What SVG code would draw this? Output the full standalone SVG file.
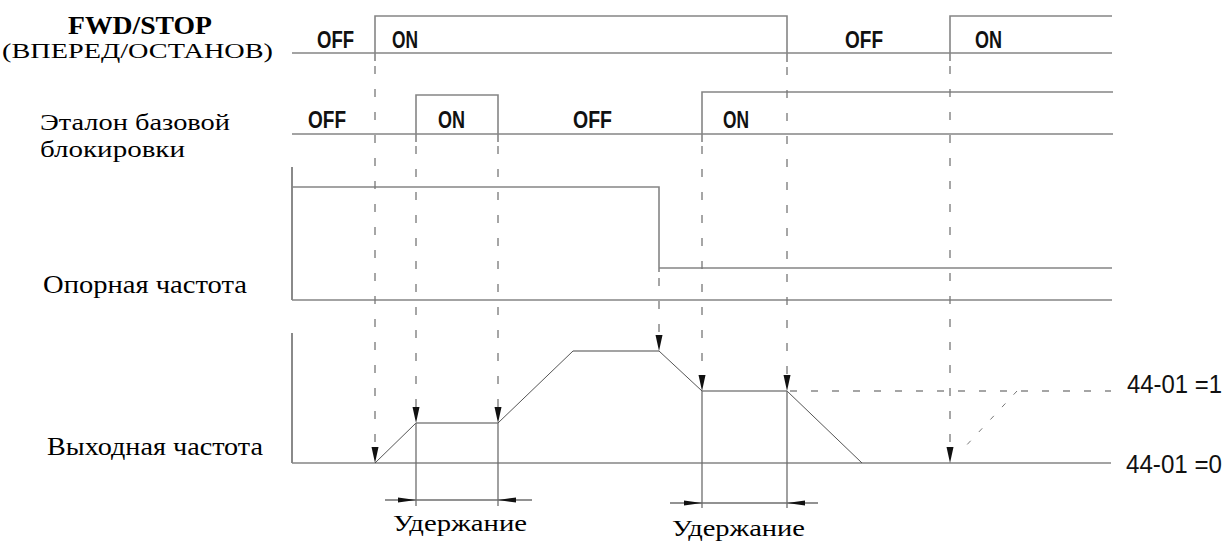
<svg xmlns="http://www.w3.org/2000/svg" width="1226" height="541" viewBox="0 0 1226 541">
<style>
.lbl{font-family:"Liberation Serif","Times New Roman",serif;fill:#000}
.st{font-family:"Liberation Sans",Arial,sans-serif;font-weight:bold;font-size:23px;fill:#111}
.par{font-family:"Liberation Sans",Arial,sans-serif;font-size:25px;fill:#111}
.sig{fill:none;stroke:#858585;stroke-width:1.6}
.ax{fill:none;stroke:#8a8a8a;stroke-width:2}
.ramp{fill:none;stroke:#555;stroke-width:1}
.dv{fill:none;stroke:#777;stroke-width:1.3;stroke-dasharray:8 15}
.dh{fill:none;stroke:#888;stroke-width:1.5;stroke-dasharray:7 14}
.dd{fill:none;stroke:#777;stroke-width:1;stroke-dasharray:5 12}
.hold{fill:none;stroke:#6e6e6e;stroke-width:1.3}
.ah{fill:#111}
</style>
<defs>
<path id="down" d="M-3.5,-16 L3.5,-16 L0,0 Z"/>
<path id="right" d="M-18,-2.5 L0,0 L-18,2.5 Z"/>
<path id="left" d="M18,-2.5 L0,0 L18,2.5 Z"/>
</defs>

<g id="labels">
<text class="lbl" x="68" y="34" font-size="25" font-weight="bold" textLength="144" lengthAdjust="spacingAndGlyphs">FWD/STOP</text>
<text class="lbl" x="2" y="57.5" font-size="20" textLength="271" lengthAdjust="spacingAndGlyphs">(ВПЕРЕД/ОСТАНОВ)</text>
<text class="lbl" x="40" y="130" font-size="23" textLength="190" lengthAdjust="spacingAndGlyphs">Эталон базовой</text>
<text class="lbl" x="40" y="157" font-size="23" textLength="145" lengthAdjust="spacingAndGlyphs">блокировки</text>
<text class="lbl" x="43" y="293" font-size="26" textLength="204" lengthAdjust="spacingAndGlyphs">Опорная частота</text>
<text class="lbl" x="47" y="455" font-size="26" textLength="216" lengthAdjust="spacingAndGlyphs">Выходная частота</text>
</g>

<g id="fwd-stop">
<line class="sig" x1="292" y1="53" x2="1112" y2="53"/>
<polyline class="sig" points="375,61 375,16 787,16 787,62"/>
<polyline class="sig" points="950,61 950,16 1112,16"/>
<text class="st" x="317" y="48" textLength="37" lengthAdjust="spacingAndGlyphs">OFF</text>
<text class="st" x="392" y="48" textLength="26" lengthAdjust="spacingAndGlyphs">ON</text>
<text class="st" x="845" y="48" textLength="38" lengthAdjust="spacingAndGlyphs">OFF</text>
<text class="st" x="975" y="48" textLength="27" lengthAdjust="spacingAndGlyphs">ON</text>
</g>

<g id="base-block">
<line class="sig" x1="292" y1="134" x2="1113" y2="134"/>
<polyline class="sig" points="416,142 416,95 498,95 498,142"/>
<polyline class="sig" points="702,142 702,92 1113,92"/>
<text class="st" x="308" y="128" textLength="38" lengthAdjust="spacingAndGlyphs">OFF</text>
<text class="st" x="438" y="128" textLength="27" lengthAdjust="spacingAndGlyphs">ON</text>
<text class="st" x="573" y="128" textLength="39" lengthAdjust="spacingAndGlyphs">OFF</text>
<text class="st" x="723" y="128" textLength="26" lengthAdjust="spacingAndGlyphs">ON</text>
</g>

<g id="ref-freq">
<line class="ax" x1="292" y1="167" x2="292" y2="300"/>
<line class="sig" x1="292" y1="300" x2="1112" y2="300"/>
<polyline class="sig" points="292,187 659,187 659,272"/>
<line class="sig" x1="659" y1="268" x2="1112" y2="268"/>
</g>

<g id="out-freq">
<line class="ax" x1="292" y1="333" x2="292" y2="463"/>
<line class="sig" x1="292" y1="463" x2="1111" y2="463"/>
<polyline class="ramp" points="375,463 416,423"/>
<line class="sig" x1="416" y1="423" x2="498" y2="423"/>
<polyline class="ramp" points="498,423 573,351"/>
<line class="sig" x1="573" y1="351" x2="659" y2="351"/>
<polyline class="ramp" points="659,351 702,391"/>
<line class="sig" x1="702" y1="391" x2="787" y2="391"/>
<polyline class="ramp" points="787,391 862,463"/>
<line class="dh" x1="790" y1="391" x2="1111" y2="391"/>
<line class="dd" x1="1017" y1="391" x2="963" y2="449"/>
<text class="par" x="1127" y="393" textLength="95" lengthAdjust="spacingAndGlyphs">44-01 =1</text>
<text class="par" x="1126" y="473" textLength="96" lengthAdjust="spacingAndGlyphs">44-01 =0</text>
</g>

<g id="connectors">
<line class="dv" x1="375" y1="66" x2="375" y2="450"/>
<line class="dv" x1="416" y1="146" x2="416" y2="410"/>
<line class="dv" x1="498" y1="146" x2="498" y2="410"/>
<line class="dv" x1="659" y1="278" x2="659" y2="338"/>
<line class="dv" x1="702" y1="146" x2="702" y2="378"/>
<line class="dv" x1="787" y1="67" x2="787" y2="378"/>
<line class="dv" x1="950" y1="66" x2="950" y2="450"/>
<use class="ah" href="#down" x="375" y="463"/>
<use class="ah" href="#down" x="416" y="423"/>
<use class="ah" href="#down" x="498" y="423"/>
<use class="ah" href="#down" x="659" y="351"/>
<use class="ah" href="#down" x="702" y="391"/>
<use class="ah" href="#down" x="787" y="391"/>
<use class="ah" href="#down" x="950" y="463"/>
</g>

<g id="hold-1">
<line class="hold" x1="416" y1="423" x2="416" y2="506"/>
<line class="hold" x1="498" y1="423" x2="498" y2="506"/>
<line class="hold" x1="385" y1="500" x2="532" y2="500"/>
<use class="ah" href="#right" x="416" y="500"/>
<use class="ah" href="#left" x="498" y="500"/>
<text class="lbl" x="393" y="531" font-size="24" textLength="134" lengthAdjust="spacingAndGlyphs">Удержание</text>
</g>

<g id="hold-2">
<line class="hold" x1="702" y1="391" x2="702" y2="508"/>
<line class="hold" x1="787" y1="391" x2="787" y2="508"/>
<line class="hold" x1="670" y1="503" x2="818" y2="503"/>
<use class="ah" href="#right" x="702" y="503"/>
<use class="ah" href="#left" x="787" y="503"/>
<text class="lbl" x="672" y="536" font-size="24" textLength="133" lengthAdjust="spacingAndGlyphs">Удержание</text>
</g>
</svg>
